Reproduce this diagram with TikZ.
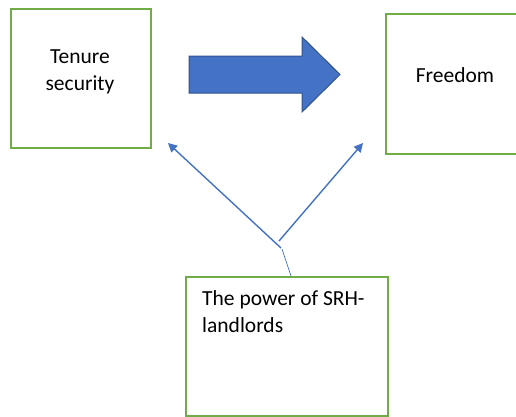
\documentclass[tikz,border=0pt]{standalone}
\usepackage{fontspec}
\setmainfont{Carlito}
\usetikzlibrary{arrows.meta}
\definecolor{boxgreen}{HTML}{70AD47}
\definecolor{arrowblue}{HTML}{4472C4}
\definecolor{arrowedge}{HTML}{2F528F}
\tikzset{
  box/.style={draw=boxgreen, line width=1.8pt, anchor=north west, inner sep=0pt},
  lbl/.style={font=\fontsize{21.5}{26.5}\selectfont, inner sep=0pt},
  link/.style={draw=arrowblue, line width=1.4pt, -{Triangle[length=9pt,width=9pt]}}
}
\begin{document}
\begin{tikzpicture}[x=1pt,y=-1pt]
      \useasboundingbox (0,0) rectangle (516,416);
      \node[box, minimum width=140pt, minimum height=139pt] (tenure) at (10,8) {};
      \node[box, minimum width=140pt, minimum height=140pt] (freedom) at (385,13) {};
      \node[box, minimum width=202pt, minimum height=139pt] (power) at (185,276) {};
      \node[lbl, align=center, anchor=base] (tenuretext) at (80,90) {Tenure\\security};
      \node[lbl, anchor=base] (freedomtext) at (455,82) {Freedom};
      \node[lbl, align=left, anchor=base west] (powertext) at (202,332) {The power of SRH-\\landlords};
      % block arrow
      \draw[fill=arrowblue, draw=arrowedge, line width=1pt]
        (189,56) -- (302,56) -- (302,37) -- (340,74.5) -- (302,112)
        -- (302,93) -- (189,93) -- cycle;
      \coordinate (startL) at (281,248);
      \coordinate (startR) at (279,241);
      \coordinate (tipL) at (168,143);
      \coordinate (tipR) at (363,143);
      \coordinate (foot) at (282,249);
      \begin{scope}[link]
        \draw (startL) to (tipL);
        \draw (startR) to (tipR);
      \end{scope}
      \draw[arrowblue, line width=0.7pt] (foot) to (power.north -| 291,0);
    \end{tikzpicture}
\end{document}
